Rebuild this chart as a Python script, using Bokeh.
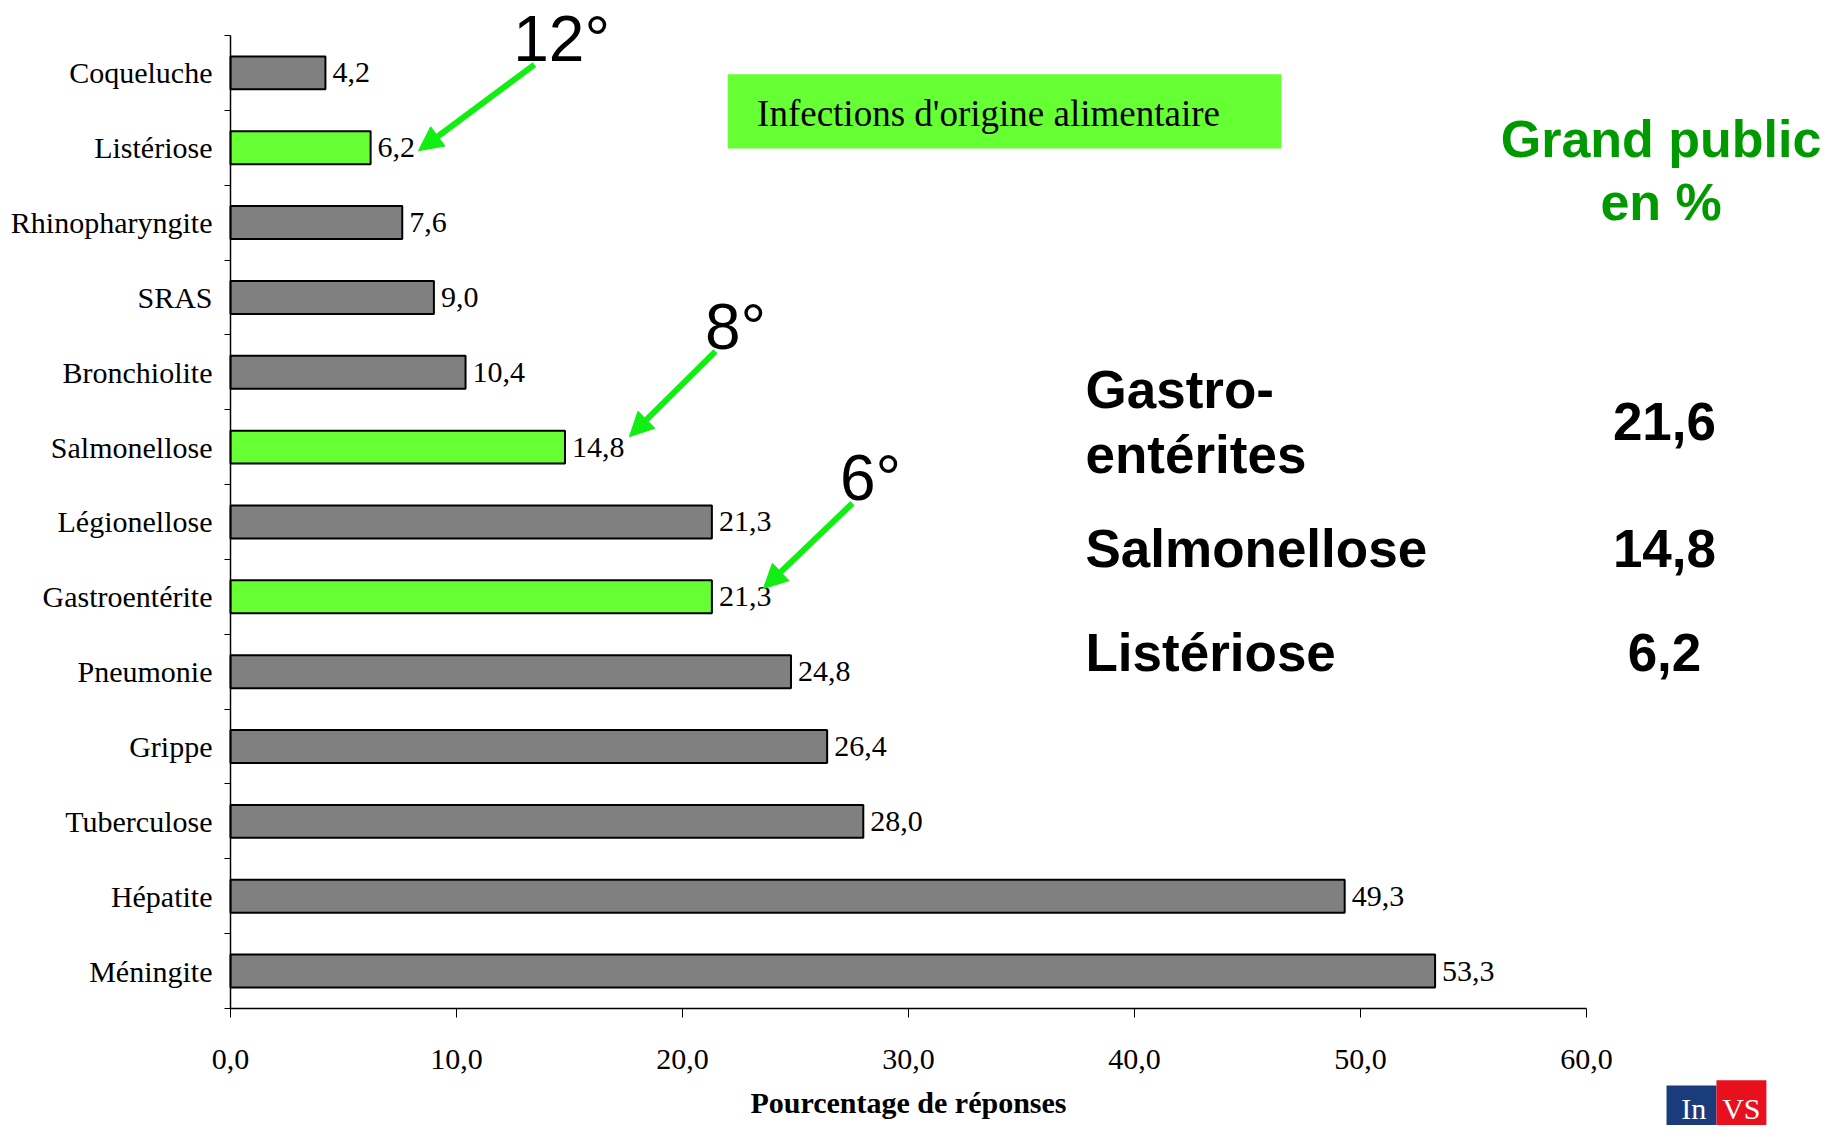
from bokeh.plotting import figure
from bokeh.models import (Range1d, LinearAxis, FixedTicker,
                          Label, Arrow, NormalHead, BoxAnnotation, ColumnDataSource)
from bokeh.embed import file_html
from bokeh.resources import INLINE
from bokeh.core.properties import value

# ---------------- data ----------------
categories = ["Méningite", "Hépatite", "Tuberculose", "Grippe", "Pneumonie",
              "Gastroentérite", "Légionellose", "Salmonellose", "Bronchiolite",
              "SRAS", "Rhinopharyngite", "Listériose", "Coqueluche"]
percentages = [53.3, 49.3, 28.0, 26.4, 24.8, 21.3, 21.3, 14.8, 10.4, 9.0, 7.6, 6.2, 4.2]
foodborne = ["Gastroentérite", "Salmonellose", "Listériose"]
x_ticks = [0, 10, 20, 30, 40, 50, 60]
x_tick_labels = ["0,0", "10,0", "20,0", "30,0", "40,0", "50,0", "60,0"]
ranks = ["12°", "8°", "6°"]
table_names = ["Salmonellose", "Listériose"]
table_values = ["21,6", "14,8", "6,2"]

# ---------------- styles / layout ----------------
GRAY = "#808080"
LIME = "#66ff33"
ARROW_GREEN = "#11ee11"
DARK_GREEN = "#009900"
SERIF = "Liberation Serif"
SANS = "Liberation Sans"

W, H = 1825, 1125
X0_PX, PX_PER_X = 230.0, 22.6       # where x=0 lies, pixels per x unit
Y0_PX, PX_PER_Y = 1008.0, 74.85     # where y=0 lies, pixels per category slot

n = len(categories)
slots = [i + 0.5 for i in range(n)]
colors = [LIME if c in foodborne else GRAY for c in categories]
labels = [f"{v:.1f}".replace(".", ",") for v in percentages]
src = ColumnDataSource(dict(y=slots, val=percentages, color=colors, lbl=labels))

p = figure(width=W, height=H,
           x_range=Range1d(-X0_PX / PX_PER_X, (W - X0_PX) / PX_PER_X),
           y_range=Range1d((Y0_PX - H) / PX_PER_Y, Y0_PX / PX_PER_Y),
           x_axis_location=None, y_axis_location=None,
           output_backend="svg", toolbar_location=None,
           min_border_left=0, min_border_right=0,
           min_border_top=0, min_border_bottom=0)
p.grid.visible = False
p.outline_line_color = None
p.background_fill_color = "white"

# y axis: ticks at category boundaries
tick_axis = LinearAxis(fixed_location=0, bounds=(0, n),
                       ticker=FixedTicker(ticks=list(range(n + 1))),
                       major_tick_in=0, major_tick_out=6,
                       major_tick_line_color="black",
                       minor_tick_line_color=None,
                       major_label_overrides={i: "" for i in range(n + 1)},
                       major_label_text_font_size="1px",
                       major_label_standoff=0,
                       axis_line_color="black", axis_line_width=1.5)
p.add_layout(tick_axis, "left")
# y axis: category names at slot centres
cat_axis = LinearAxis(fixed_location=0, bounds=(0, n),
                      ticker=FixedTicker(ticks=slots),
                      major_label_overrides=dict(zip(slots, categories)),
                      major_tick_line_color=None, major_tick_out=0, major_tick_in=0,
                      minor_tick_line_color=None,
                      axis_line_color=None, major_label_standoff=18,
                      major_label_text_font=SERIF,
                      major_label_text_font_size="30px",
                      major_label_text_color="black")
p.add_layout(cat_axis, "left")

# x axis
xa = LinearAxis(fixed_location=0, bounds=(0, 60),
                ticker=FixedTicker(ticks=x_ticks),
                major_label_overrides=dict(zip(x_ticks, x_tick_labels)),
                major_tick_in=0, major_tick_out=9,
                minor_tick_line_color=None,
                axis_line_color="black", axis_line_width=1.5,
                major_tick_line_color="black",
                major_label_standoff=32,
                major_label_text_font=SERIF,
                major_label_text_font_size="30px",
                major_label_text_color="black",
                axis_label="Pourcentage de réponses",
                axis_label_text_font=SERIF,
                axis_label_text_font_size="30px",
                axis_label_text_font_style="bold",
                axis_label_text_color="black",
                axis_label_standoff=14)
p.add_layout(xa, "below")

# bars
p.hbar(y="y", right="val", left=0, height=0.44, source=src,
       fill_color="color", line_color="black", line_width=2)
p.text(x="val", y="y", text="lbl", source=src, x_offset=7,
       text_baseline="middle", text_align="left",
       text_font=value(SERIF), text_font_size="30px", text_color="black")

# green box "Infections d'origine alimentaire"
p.add_layout(BoxAnnotation(left=22.0, right=46.5, bottom=11.49, top=12.48,
                           fill_color=LIME, fill_alpha=1.0, line_color=None))
p.add_layout(Label(x=23.3, y=11.96, text="Infections d'origine  alimentaire",
                   text_font=SERIF, text_font_size="37px", text_color="black",
                   text_baseline="middle", text_align="left"))

# rank annotations with arrows
rank_pos = [(14.65, 12.95), (22.35, 9.10), (28.32, 7.09)]
arrow_pos = [(13.45, 12.61, 8.32, 11.46), (21.46, 8.78, 17.65, 7.64),
             (27.52, 6.75, 23.58, 5.61)]
for r, (lx, ly), (xs, ys, xe, ye) in zip(ranks, rank_pos, arrow_pos):
    p.add_layout(Label(x=lx, y=ly, text=r, text_font=SANS, text_font_size="64px",
                       text_color="black", text_align="center", text_baseline="middle"))
    p.add_layout(Arrow(x_start=xs, y_start=ys, x_end=xe, y_end=ye,
                       line_color=ARROW_GREEN, line_width=6,
                       end=NormalHead(size=24, fill_color=ARROW_GREEN,
                                      line_color=ARROW_GREEN)))

# right-hand summary
for t, yy in [("Grand public", 11.62), ("en %", 10.77)]:
    p.add_layout(Label(x=63.3, y=yy, text=t, text_font=SANS,
                       text_font_size="52px", text_font_style="bold",
                       text_color=DARK_GREEN,
                       text_align="center", text_baseline="middle"))

name_rows = [("Gastro-", 8.27), ("entérites", 7.40),
             (table_names[0], 6.15), (table_names[1], 4.76)]
for t, yy in name_rows:
    p.add_layout(Label(x=37.83, y=yy, text=t, text_font=SANS, text_font_size="53px",
                       text_font_style="bold", text_color="black",
                       text_align="left", text_baseline="middle"))
for t, yy in zip(table_values, [7.84, 6.15, 4.76]):
    p.add_layout(Label(x=63.45, y=yy, text=t, text_font=SANS, text_font_size="53px",
                       text_font_style="bold", text_color="black",
                       text_align="center", text_baseline="middle"))

# small InVS logo approximation
p.quad(left=63.54, right=65.75, bottom=-1.6, top=-1.03,
       fill_color="#1b3c7c", line_color=None)
p.quad(left=65.75, right=67.96, bottom=-1.6, top=-0.96,
       fill_color="#e8101c", line_color=None)
p.add_layout(Label(x=64.75, y=-1.33, text="In", text_font=SERIF, text_font_size="30px",
                   text_color="white", text_align="center", text_baseline="middle"))
p.add_layout(Label(x=66.85, y=-1.33, text="VS", text_font=SERIF, text_font_size="30px",
                   text_color="white", text_align="center", text_baseline="middle"))

open("out.html", "w").write(file_html(p, INLINE))
